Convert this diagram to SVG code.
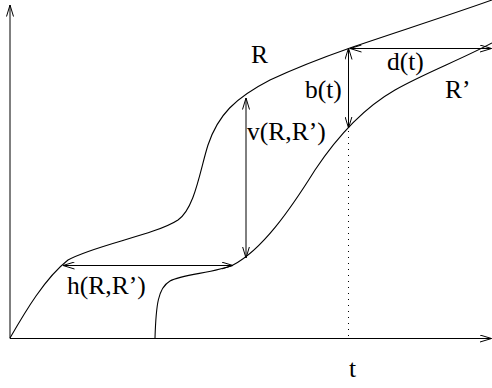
<svg xmlns="http://www.w3.org/2000/svg" width="492" height="388" viewBox="0 0 492 388">
<style>
.ln{fill:none;stroke:#000;stroke-width:1}
.cv{fill:none;stroke:#000;stroke-width:1.1}
.ar{fill:none;stroke:#000;stroke-width:1;marker-end:url(#ah)}
.dar{fill:none;stroke:#000;stroke-width:1;marker-start:url(#ah);marker-end:url(#ah)}
.dot{fill:none;stroke:#000;stroke-width:1;stroke-dasharray:1 5}
text{font-family:"Liberation Serif","Times New Roman",serif;font-size:25.5px;fill:#000}
</style>
<defs>
<marker id="ah" viewBox="0 0 12 8" refX="11.5" refY="4" markerUnits="userSpaceOnUse" markerWidth="12" markerHeight="8" orient="auto-start-reverse">
<path d="M0,0.5 L11.5,4 L0,7.5" fill="none" stroke="#000" stroke-width="1"/>
</marker>
</defs>
<rect width="492" height="388" fill="#fff"/>
<g id="axes">
<path class="ar" d="M10,338.5 L10,5"/>
<path class="ar" d="M10,338.5 L491.5,338.5"/>
</g>
<g id="curve-R">
<path class="cv" d="M10,338 C25,312 45,278 68,260 C95,245 155,235 178,220 C195,208 200,170 208,145 C218,115 235,98 270,80 C300,66 330,55 350,48 C400,31 450,15 492,0"/>
</g>
<g id="curve-Rp">
<path class="cv" d="M155,338 C156,305 158,288 170,281 C182,274 215,273 233,265 C262,250 290,210 315,170 C335,140 360,110 395,90 C425,73 460,60 492,43"/>
</g>
<g id="connectors">
<path class="dar" d="M246,98 L246,258"/>
<path class="dar" d="M63,265.5 L233,265.5"/>
<path class="dar" d="M348.5,48 L348.5,128"/>
<path class="dar" d="M350,48.5 L491.5,48.5"/>
<path class="dot" d="M348.5,131 L348.5,336"/>
</g>
<g id="labels">
<text x="251" y="63">R</text>
<text x="305" y="98">b(t)</text>
<text x="387" y="70">d(t)</text>
<text x="445" y="98">R’</text>
<text x="247" y="140">v(R,R’)</text>
<text x="67" y="294">h(R,R’)</text>
<text x="349" y="377">t</text>
</g>
</svg>
